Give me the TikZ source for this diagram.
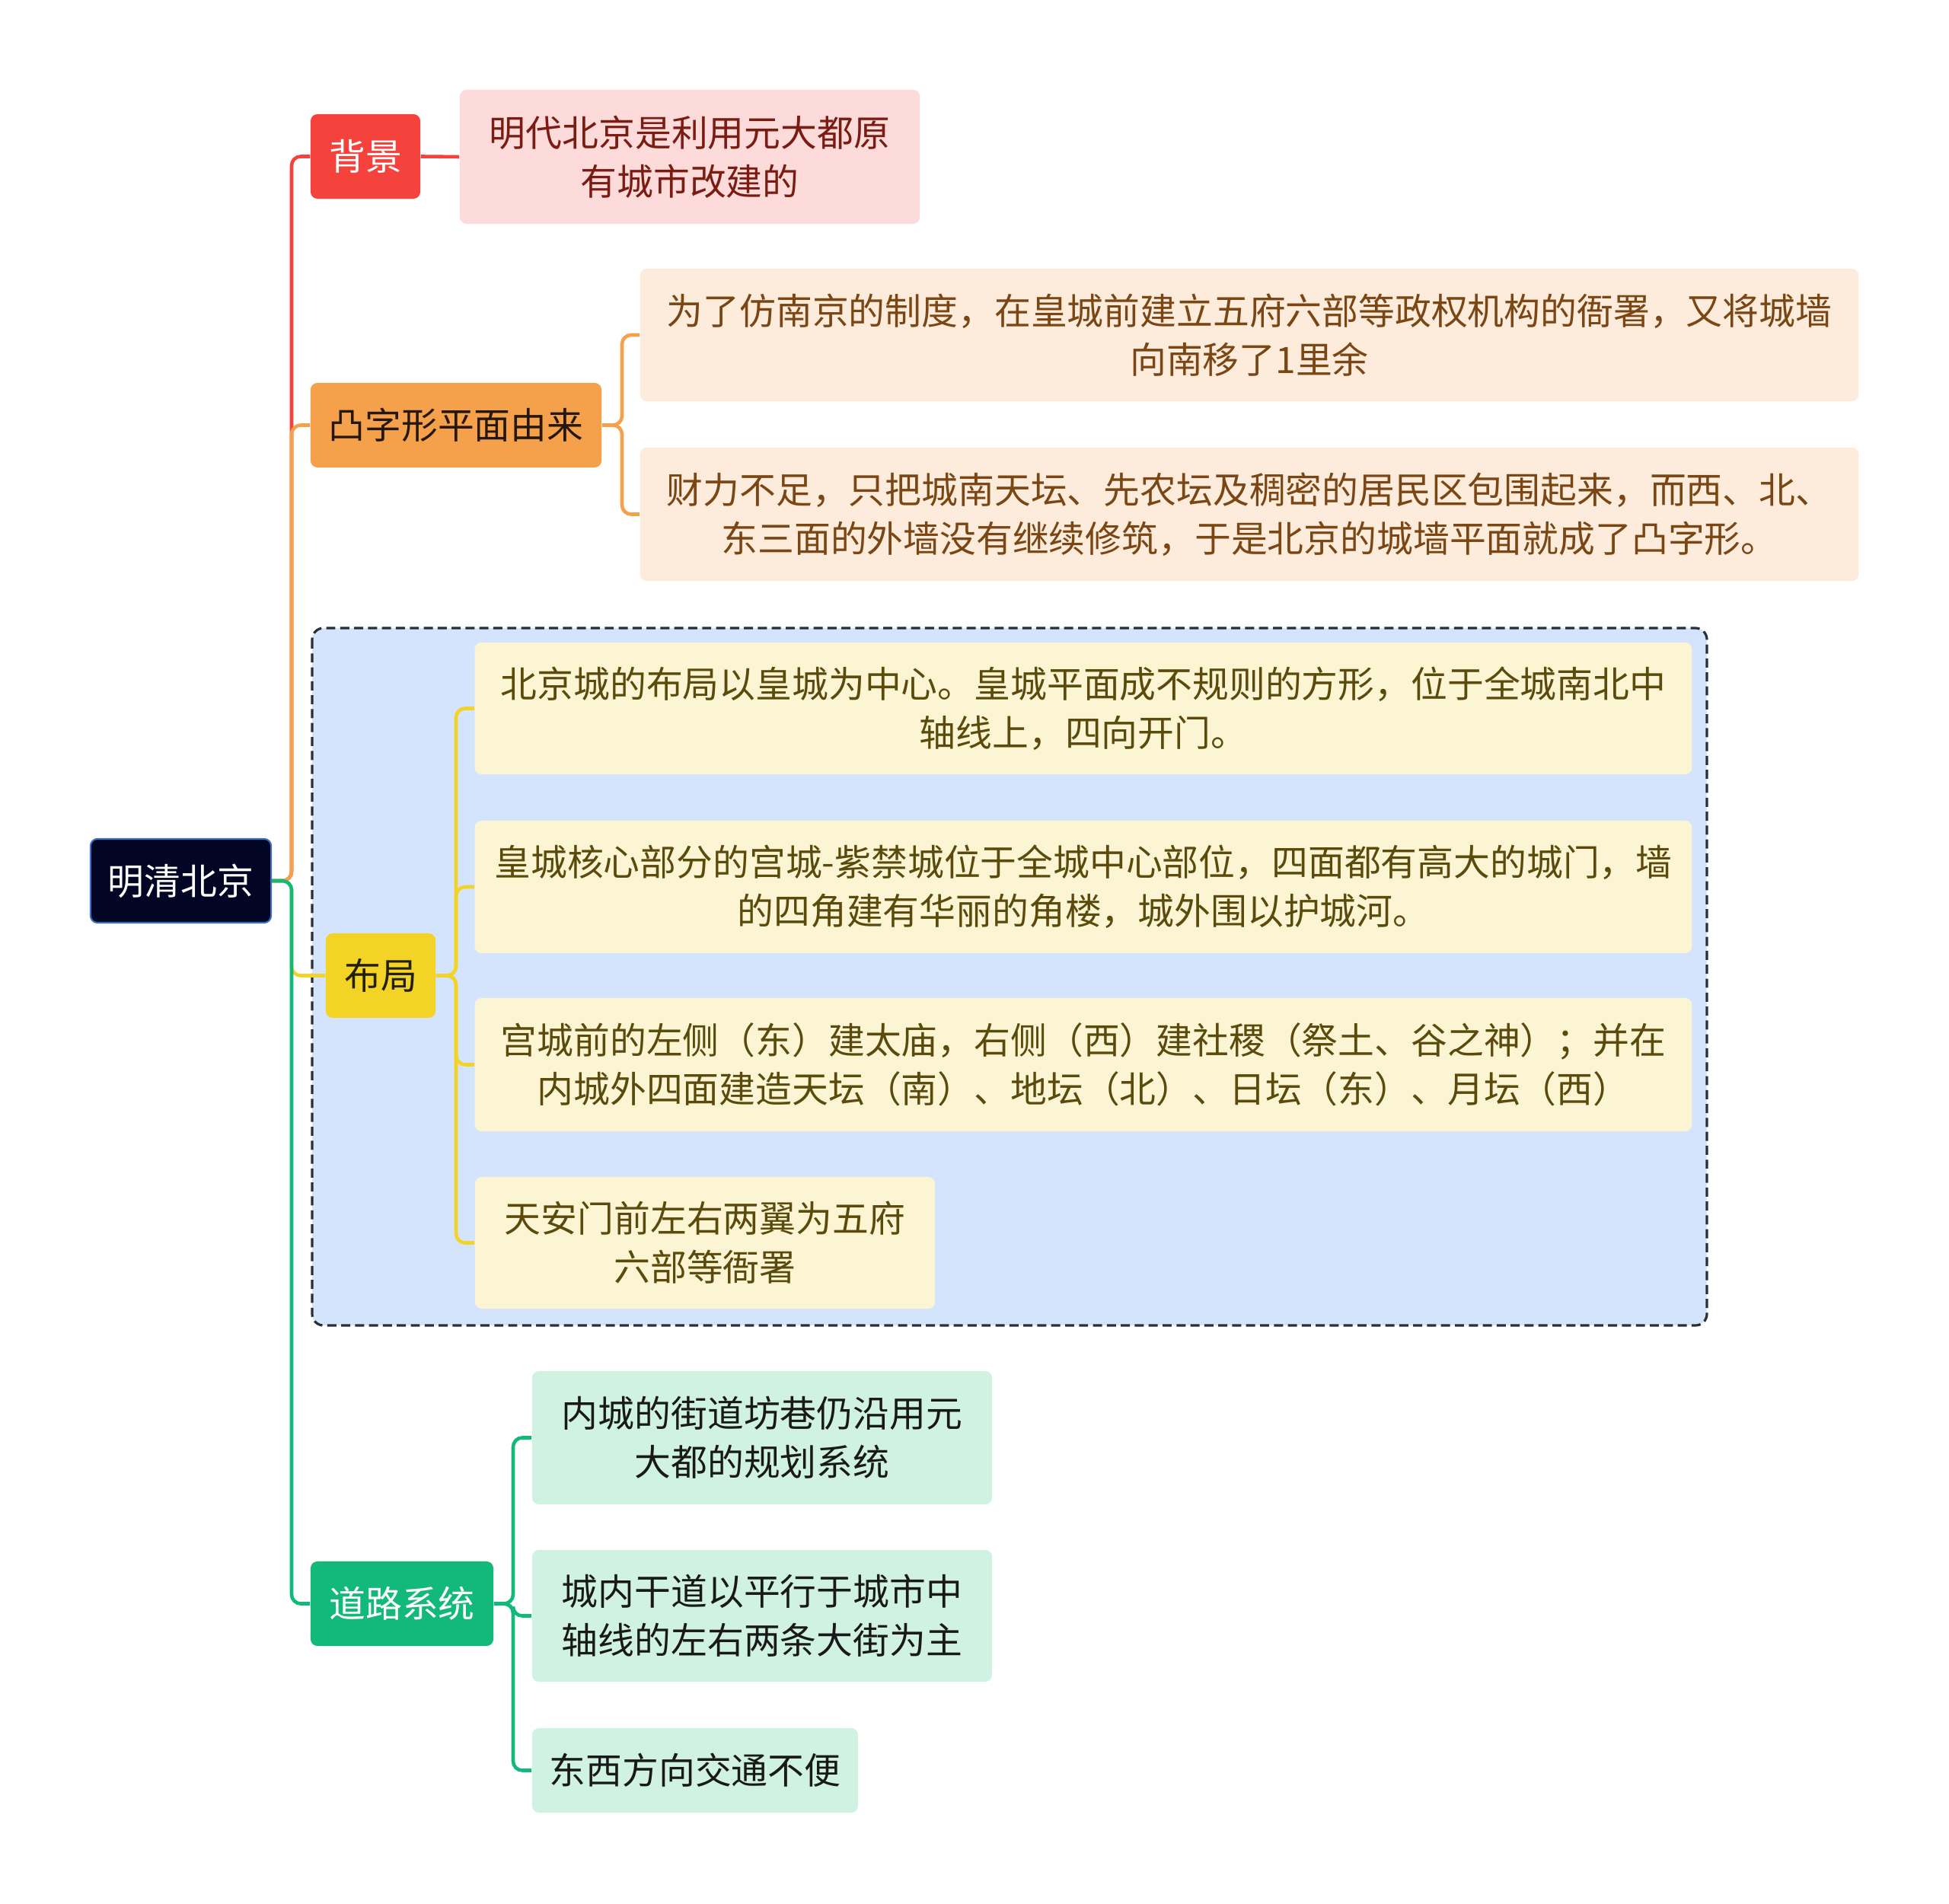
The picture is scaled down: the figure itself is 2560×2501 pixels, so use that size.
\documentclass[tikz,border=0pt]{standalone}
\usepackage{fontspec}
\newfontfamily\cjk{Noto Sans CJK SC}
\usepackage{tikz}

\definecolor{rootfill}{HTML}{020524}
\definecolor{rootdraw}{HTML}{3A6FC4}
\definecolor{bgred}{HTML}{F5423C}
\definecolor{bgpale}{HTML}{FDDBDB}
\definecolor{bgtext}{HTML}{7A1C12}
\definecolor{tzorange}{HTML}{F5A04B}
\definecolor{tzpale}{HTML}{FDEBDB}
\definecolor{tztext}{HTML}{7A4614}
\definecolor{bjyellow}{HTML}{F2D326}
\definecolor{bjpale}{HTML}{FCF5D3}
\definecolor{bjtext}{HTML}{5A4A0C}
\definecolor{framefill}{HTML}{D4E4FC}
\definecolor{framedraw}{HTML}{2A2E36}
\definecolor{dlgreen}{HTML}{13B87B}
\definecolor{dlpale}{HTML}{CFF2E2}

\tikzset{
  box/.style={rectangle, rounded corners=0.09cm, inner sep=0pt, align=center,
    font=\cjk\fontsize{13.6pt}{18.2pt}\selectfont},
  link/.style={line width=1.3pt, rounded corners=0.12cm},
}

\begin{document}
\begin{tikzpicture}[x=0.01cm,y=-0.01cm]
  \useasboundingbox (0,0) rectangle (2560,2501);

  % frame round the layout branch
  \draw[framedraw, fill=framefill, line width=0.9pt, dash pattern=on 3.4pt off 1.8pt,
    rounded corners=0.15cm] (410,825) rectangle (2242,1741);

  \node[box, fill=rootfill, draw=rootdraw, line width=0.6pt, text=white,
    minimum width=2.37cm, minimum height=1.1cm] (root) at (237.5,1157) {明清北京};

  \node[box, fill=bgred, text=white, minimum width=1.44cm, minimum height=1.11cm]
    (bg) at (480,205.5) {背景};
  \node[box, fill=bgpale, text=bgtext, minimum width=6.04cm, minimum height=1.76cm]
    (bgtxt) at (906,206) {明代北京是利用元大都原\\有城市改建的};

  \node[box, fill=tzorange, text=black!85!tzorange, minimum width=3.82cm, minimum height=1.11cm]
    (tuzi) at (599,558.5) {凸字形平面由来};
  \node[box, fill=tzpale, text=tztext, minimum width=16cm, minimum height=1.74cm]
    (tuzia) at (1641,440) {为了仿南京的制度，在皇城前建立五府六部等政权机构的衙署，又将城墙\\向南移了1里余};
  \node[box, fill=tzpale, text=tztext, minimum width=16cm, minimum height=1.75cm]
    (tuzib) at (1641,675.5) {财力不足，只把城南天坛、先农坛及稠密的居民区包围起来，而西、北、\\东三面的外墙没有继续修筑，于是北京的城墙平面就成了凸字形。};

  \node[box, fill=bjyellow, text=black!85!bjyellow, minimum width=1.44cm, minimum height=1.11cm]
    (buju) at (500,1281.5) {布局};
  \node[box, fill=bjpale, text=bjtext, minimum width=15.98cm, minimum height=1.73cm]
    (bujua) at (1423,930.5) {北京城的布局以皇城为中心。皇城平面成不规则的方形，位于全城南北中\\轴线上，四向开门。};
  \node[box, fill=bjpale, text=bjtext, minimum width=15.98cm, minimum height=1.74cm]
    (bujub) at (1423,1165) {皇城核心部分的宫城-紫禁城位于全城中心部位，四面都有高大的城门，墙\\的四角建有华丽的角楼，城外围以护城河。};
  \node[box, fill=bjpale, text=bjtext, minimum width=15.98cm, minimum height=1.75cm]
    (bujuc) at (1423,1398.5) {宫城前的左侧（东）建太庙，右侧（西）建社稷（祭土、谷之神）；并在\\内城外四面建造天坛（南）、地坛（北）、日坛（东）、月坛（西）};
  \node[box, fill=bjpale, text=bjtext, minimum width=6.04cm, minimum height=1.73cm]
    (bujud) at (926,1632.5) {天安门前左右两翼为五府\\六部等衙署};

  \node[box, fill=dlgreen, text=white, minimum width=2.4cm, minimum height=1.11cm]
    (daolu) at (528,2106.5) {道路系统};
  \node[box, fill=dlpale, text=black!90, minimum width=6.04cm, minimum height=1.75cm]
    (daolua) at (1001,1888.5) {内城的街道坊巷仍沿用元\\大都的规划系统};
  \node[box, fill=dlpale, text=black!90, minimum width=6.04cm, minimum height=1.73cm]
    (daolub) at (1001,2122.5) {城内干道以平行于城市中\\轴线的左右两条大街为主};
  \node[box, fill=dlpale, text=black!90, minimum width=4.28cm, minimum height=1.11cm]
    (daoluc) at (913,2325.5) {东西方向交通不便};

  % junctions
  \coordinate (rj) at (383,1157);
  \coordinate (tj) at (817,558.5);
  \coordinate (bj) at (599,1281.5);
  \coordinate (dj) at (674,2106.5);

  % root to branches
  \draw[link, bgred] (root.east) -- (rj) |- (bg.west);
  \draw[link, tzorange] (root.east) -- (rj) |- (tuzi.west);
  \draw[link, bjyellow] (root.east) -- (rj) |- (buju.west);
  \draw[link, dlgreen] (root.east) -- (rj) |- (daolu.west);

  % branches to leaves
  \draw[link, bgred] (bg.east) -- (bgtxt.west);
  \foreach \leaf in {tuzia,tuzib}
    \draw[link, tzorange] (tuzi.east) -- (tj) |- (\leaf.west);
  \foreach \leaf in {bujua,bujub,bujuc,bujud}
    \draw[link, bjyellow] (buju.east) -- (bj) |- (\leaf.west);
  \foreach \leaf in {daolua,daolub,daoluc}
    \draw[link, dlgreen] (daolu.east) -- (dj) |- (\leaf.west);
\end{tikzpicture}
\end{document}
